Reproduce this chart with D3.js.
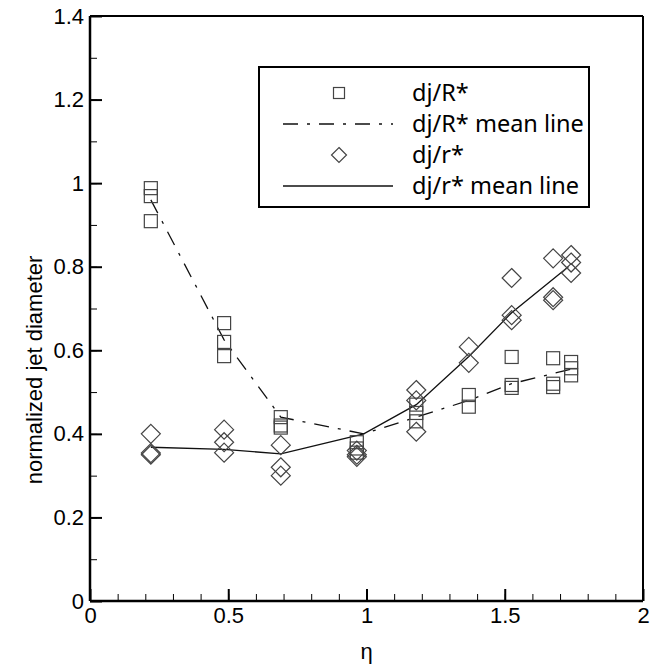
<!DOCTYPE html>
<html>
<head>
<meta charset="utf-8">
<script src="https://cdn.jsdelivr.net/npm/d3@7"></script>
<style>
  body { margin: 0; background: #fff; }
  svg { display: block; }
</style>
</head>
<body>
<div id="chart"></div>
<script>
// ===== data =====
const clusterEta = [0.22, 0.485, 0.69, 0.965, 1.18, 1.37, 1.525, 1.675, 1.74];
// dj/R* (squares), one list per eta cluster
const djRStar = [
  [0.988, 0.969, 0.909],
  [0.665, 0.62, 0.586],
  [0.44, 0.42, 0.415],
  [0.38, 0.365, 0.355],
  [0.47, 0.45, 0.43],
  [0.493, 0.465],
  [0.584, 0.517, 0.51],
  [0.581, 0.52, 0.512],
  [0.572, 0.557, 0.54]
];
// dj/r* (diamonds)
const djrStar = [
  [0.40, 0.354, 0.35],
  [0.41, 0.38, 0.355],
  [0.373, 0.32, 0.30],
  [0.36, 0.35, 0.345],
  [0.505, 0.48, 0.405],
  [0.608, 0.57],
  [0.773, 0.684, 0.672],
  [0.82, 0.727, 0.72],
  [0.828, 0.81, 0.785]
];
const meanEtaR = [0.22, 0.485, 0.69, 0.99, 1.18, 1.37, 1.525, 1.74];
const meanR = [0.96, 0.625, 0.44, 0.40, 0.44, 0.48, 0.52, 0.555];
const meanEtar = [0.22, 0.485, 0.69, 0.99, 1.18, 1.37, 1.525, 1.73];
const meanr = [0.368, 0.363, 0.352, 0.40, 0.47, 0.585, 0.69, 0.80];

const xTicks = [0, 0.5, 1, 1.5, 2];
const yTicks = [0, 0.2, 0.4, 0.6, 0.8, 1, 1.2, 1.4];
const legendLabels = ['dj/R*', 'dj/R* mean line', 'dj/r*', 'dj/r* mean line'];

// ===== chart =====
const W = 650, H = 665;
const margin = { top: 16, right: 7, bottom: 64, left: 90 };
const width = W - margin.left - margin.right;
const height = H - margin.top - margin.bottom;
const tickFont = 'Liberation Sans, Arial, sans-serif';

const svg = d3.select('#chart')
  .append('svg')
  .attr('width', W)
  .attr('height', H);

const g = svg.append('g')
  .attr('transform', `translate(${margin.left},${margin.top})`);

const x = d3.scaleLinear().domain([0, 2]).range([0, width]);
const y = d3.scaleLinear().domain([0, 1.4]).range([height, 0]);

const fmt = d => d3.format('~g')(d);

// minor ticks (inside)
const xMinor = d3.range(0, 2.0001, 0.1);
const yMinor = d3.range(0, 1.4001, 0.1);

// bottom axis
g.append('g')
  .attr('transform', `translate(0,${height})`)
  .call(d3.axisBottom(x).tickValues(xMinor).tickSize(-7).tickFormat(''))
  .call(s => s.select('.domain').remove())
  .call(s => s.selectAll('.tick line').attr('stroke', '#000').attr('stroke-width', 1));
g.append('g')
  .attr('transform', `translate(0,${height})`)
  .call(d3.axisBottom(x).tickValues(xTicks).tickSize(-12).tickPadding(6).tickFormat(fmt))
  .call(s => s.select('.domain').remove())
  .call(s => s.selectAll('.tick line').attr('stroke', '#000').attr('stroke-width', 2))
  .call(s => s.selectAll('text').attr('y', 6).attr('font-family', tickFont).attr('font-size', 22).attr('fill', '#000'));

// left axis
g.append('g')
  .call(d3.axisLeft(y).tickValues(yMinor).tickSize(-7).tickFormat(''))
  .call(s => s.select('.domain').remove())
  .call(s => s.selectAll('.tick line').attr('stroke', '#000').attr('stroke-width', 1));
g.append('g')
  .call(d3.axisLeft(y).tickValues(yTicks).tickSize(-12).tickPadding(6).tickFormat(fmt))
  .call(s => s.select('.domain').remove())
  .call(s => s.selectAll('.tick line').attr('stroke', '#000').attr('stroke-width', 2))
  .call(s => s.selectAll('text').attr('x', -6).attr('font-family', tickFont).attr('font-size', 22).attr('fill', '#000'));

// frame: thick left/bottom, thinner top/right
g.append('line').attr('x1', 0).attr('x2', 0).attr('y1', 0).attr('y2', height)
  .attr('stroke', '#000').attr('stroke-width', 2.5);
g.append('line').attr('x1', 0).attr('x2', width).attr('y1', height).attr('y2', height)
  .attr('stroke', '#000').attr('stroke-width', 2.5);
g.append('line').attr('x1', 0).attr('x2', width).attr('y1', 0).attr('y2', 0)
  .attr('stroke', '#000').attr('stroke-width', 2);
g.append('line').attr('x1', width).attr('x2', width).attr('y1', 0).attr('y2', height)
  .attr('stroke', '#000').attr('stroke-width', 2);

// axis titles
svg.append('text')
  .attr('x', margin.left + x(1))
  .attr('y', 659)
  .attr('text-anchor', 'middle')
  .attr('font-family', tickFont)
  .attr('font-size', 22)
  .text('η');

svg.append('text')
  .attr('transform', `translate(42,370) rotate(-90)`)
  .attr('text-anchor', 'middle')
  .attr('font-family', tickFont)
  .attr('font-size', 22)
  .text('normalized jet diameter');

// mean lines
const line = d3.line().x(d => x(d[0])).y(d => y(d[1]));
const dashDot = '15,9,3,9';

g.append('path')
  .datum(meanEtaR.map((e, i) => [e, meanR[i]]))
  .attr('d', line)
  .attr('fill', 'none')
  .attr('stroke', '#111')
  .attr('stroke-width', 1.3)
  .attr('stroke-dasharray', dashDot);

g.append('path')
  .datum(meanEtar.map((e, i) => [e, meanr[i]]))
  .attr('d', line)
  .attr('fill', 'none')
  .attr('stroke', '#111')
  .attr('stroke-width', 1.3);

// markers
const sqPts = clusterEta.flatMap((e, i) => djRStar[i].map(v => [e, v]));
const diPts = clusterEta.flatMap((e, i) => djrStar[i].map(v => [e, v]));
const markStroke = '#444';

const sqSize = 13;
g.selectAll('.sq')
  .data(sqPts)
  .enter().append('rect')
  .attr('class', 'sq')
  .attr('x', d => x(d[0]) - sqSize / 2)
  .attr('y', d => y(d[1]) - sqSize / 2)
  .attr('width', sqSize)
  .attr('height', sqSize)
  .attr('fill', 'none')
  .attr('stroke', markStroke)
  .attr('stroke-width', 1.2);

const diR = 9.5;
const diamond = r => `M0,${-r}L${r},0L0,${r}L${-r},0Z`;
g.selectAll('.di')
  .data(diPts)
  .enter().append('path')
  .attr('class', 'di')
  .attr('transform', d => `translate(${x(d[0])},${y(d[1])})`)
  .attr('d', diamond(diR))
  .attr('fill', 'none')
  .attr('stroke', markStroke)
  .attr('stroke-width', 1.2);

// legend
const legend = svg.append('g').attr('transform', 'translate(259,67)');
legend.append('rect')
  .attr('width', 330)
  .attr('height', 140)
  .attr('fill', '#fff')
  .attr('stroke', '#000')
  .attr('stroke-width', 2);

const rowY = [26, 57, 88, 119];
const symX = 80;
legendLabels.forEach((lab, i) => {
  const row = legend.append('g').attr('transform', `translate(0,${rowY[i]})`);
  if (i === 0) {
    row.append('rect').attr('x', symX - 5.5).attr('y', -5.5).attr('width', 11).attr('height', 11)
      .attr('fill', 'none').attr('stroke', markStroke).attr('stroke-width', 1.2);
  } else if (i === 2) {
    row.append('path').attr('transform', `translate(${symX},0)`).attr('d', diamond(7.5))
      .attr('fill', 'none').attr('stroke', markStroke).attr('stroke-width', 1.2);
  } else {
    row.append('line').attr('x1', 24).attr('x2', 134).attr('y1', 0).attr('y2', 0)
      .attr('stroke', '#111').attr('stroke-width', 1.5)
      .attr('stroke-dasharray', i === 1 ? dashDot : null);
  }
  row.append('text')
    .attr('x', 153)
    .attr('dy', '0.35em')
    .attr('font-family', 'Noto Sans, sans-serif')
    .attr('font-size', 23.5)
    .text(lab);
});
</script>
</body>
</html>
